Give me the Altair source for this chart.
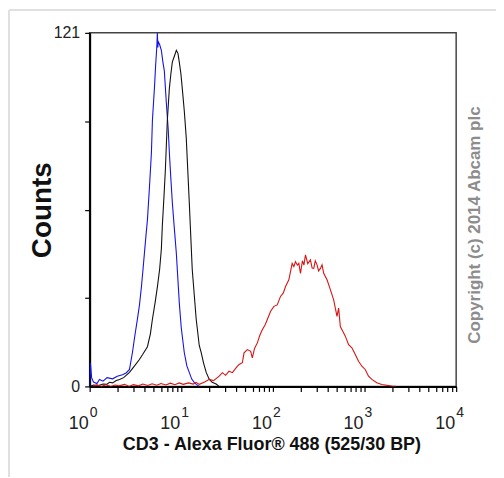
import altair as alt
import pandas as pd

# ---- data ----
blue_x = [1.0, 1.02, 1.05, 1.1, 1.2, 1.28, 1.4, 1.55, 1.78, 2.0, 2.28, 2.5, 2.72, 2.93, 3.1, 3.32, 3.5, 3.67,
          3.82, 3.96, 4.1, 4.27, 4.49, 4.72, 4.84, 5.09, 5.25, 5.35, 5.42, 5.48, 5.55, 5.6, 5.8, 6.06, 6.3, 6.53,
          6.87, 7.2, 7.41, 7.7, 7.98, 8.4, 8.83, 9.51, 10.0, 10.78, 11.5, 12.22, 13.0, 13.84, 14.6, 15.7]
blue_y = [0, 8, 3, 1.5, 1.0, 2.4, 1.8, 3.0, 2.6, 3.5, 4.0, 4.6, 5.8, 11.6, 17, 23, 28, 34,
          40, 45.6, 51, 57, 68, 80, 91, 102, 110, 114, 117, 121, 116, 118, 117, 115, 111, 108,
          97, 88, 80, 71, 63, 54, 45.6, 28.6, 20, 11.6, 7, 4.8, 2.5, 1.4, 0.7, 0]

black_x = [1.0, 1.1, 1.25, 1.4, 1.53, 1.65, 1.78, 1.95, 2.12, 2.35, 2.72, 3.0, 3.49, 3.8, 4.27, 4.6, 4.84, 5.2,
           5.48, 5.8, 6.06, 6.21, 6.5, 6.7, 7.04, 7.41, 7.7, 7.98, 8.4, 8.83, 9.2, 9.51, 9.9, 10.25, 10.8, 11.33,
           12.22, 13.17, 14.55, 15.7, 16.5, 17.5, 18.7, 20.15, 21.73, 24.0, 25.88]
black_y = [0, 0.5, 0.3, 0.8, 0.7, 1.4, 1.2, 2.0, 2.4, 3.0, 4.8, 6.5, 9.2, 11, 13.6, 18, 23, 29,
           34, 40, 47, 55, 66, 74, 91, 102, 107, 111, 113, 115, 114, 111, 107, 102, 94, 85,
           63, 40, 23, 14, 11.6, 8, 4.8, 2.5, 1.4, 0.8, 0]

red_x = [1.08, 1.2, 1.35, 1.5, 1.7, 1.9, 2.1, 2.4, 2.7, 3.0, 3.4, 3.8, 4.3, 4.8, 5.4, 6.0, 6.8, 7.6, 8.5, 9.5,
         10.5, 12, 13.5, 14.5, 15.7, 18, 20.2, 22.5, 25.9, 28.1, 30.5, 33.2, 36.1, 40, 42.7, 46.4, 48.4, 52.6,
         57.2, 59.6, 63, 67.6, 72, 76.6, 82, 86.7, 94.4, 102.6, 111.4, 121.1, 130, 137.4, 149.2, 155, 162.2,
         169.2, 176.2, 185, 191.8, 199.9, 210, 218, 226.6, 240, 256.7, 268, 279.2, 290, 303.3, 315, 329.8,
         343.6, 358.3, 389.6, 423.6, 460.4, 500.4, 521.6, 544.3, 567.3, 616.6, 670, 728, 792, 860, 935, 1017,
         1105, 1202, 1361, 1542, 1982, 2200]
red_y = [0, 0.5, 0, 0.6, 0, 0.5, 0.2, 0.7, 0, 0.6, 0.2, 0.8, 0.3, 0.9, 0.4, 1.0, 0.5, 1.1, 0.6, 1.2,
         0.7, 1.2, 0.8, 1.4, 0.7, 1.5, 2.4, 2.0, 3.5, 4.7, 3.8, 5.2, 4.7, 6.5, 7.5, 8.1, 11.5, 12.6,
         12.0, 9.8, 13, 14.9, 17.5, 19.4, 21, 22.8, 25.7, 27.4, 27.9, 30.8, 32, 34.2, 36.5, 39, 42.1,
         41.0, 42.7, 41.5, 42.1, 38.7, 43, 41.5, 45.0, 42, 43.3, 40.5, 40.4, 43, 41.6, 39.5, 40.4,
         41.6, 38.7, 36.5, 33.1, 29.6, 24.0, 26.8, 20.5, 19.4, 17.2, 14.3, 13.2, 10.9, 8.6, 6.9, 5.8,
         3.5, 2.4, 1.25, 0.68, 0.1, 0]

decades = [1, 10, 100, 1000, 10000]
exponents = ["0", "1", "2", "3", "4"]
minor_ticks = [m * d for d in [1, 10, 100, 1000] for m in range(1, 10)] + [10000]
y_ticks = [0, 30.25, 60.5, 90.75, 121]

x_title = "CD3 - Alexa Fluor® 488 (525/30 BP)"
y_title = "Counts"
copyright_text = "Copyright (c) 2014 Abcam plc"

series_names = ["blue", "black", "red"]
series_colors = ["#1414e6", "#111111", "#d81414"]

rows = []
for name, xs, ys in [("blue", blue_x, blue_y), ("black", black_x, black_y), ("red", red_x, red_y)]:
    for i, (xv, yv) in enumerate(zip(xs, ys)):
        rows.append({"series": name, "x": xv, "y": yv, "i": i})
df = pd.DataFrame(rows)

FONT = "'Liberation Sans', Arial, sans-serif"

xscale = alt.Scale(type="log", domain=[1, 10000], nice=False)
yscale = alt.Scale(domain=[0, 121], nice=False)

lines = alt.Chart(df).mark_line(strokeWidth=1.1, interpolate="linear", clip=True).encode(
    x=alt.X("x:Q", scale=xscale,
            axis=alt.Axis(values=minor_ticks, labels=False, title=None, grid=False, domainColor="#000",
                          domainWidth=2, tickColor="#000", tickSize=5, tickWidth=1.2)),
    y=alt.Y("y:Q", scale=yscale,
            axis=alt.Axis(values=y_ticks, grid=False, title=None, domainColor="#000", domainWidth=2,
                          tickColor="#000", tickSize=5, tickWidth=1.2, labelFont=FONT, labelFontSize=16,
                          labelColor="#222", labelPadding=5,
                          labelExpr="datum.value == 0 || datum.value == 121 ? datum.label : ''")),
    color=alt.Color("series:N", scale=alt.Scale(domain=series_names, range=series_colors), legend=None),
    order="i:Q",
)

dec_df = pd.DataFrame({"x": decades, "e": exponents, "t": ["10"] * len(decades)})
base_lbl = alt.Chart(dec_df).encode(x=alt.X("x:Q", scale=xscale))
lbl10 = base_lbl.mark_text(font=FONT, fontSize=18, align="right", baseline="alphabetic",
                           color="#222", dx=-1).encode(text="t:N", y=alt.value(398))
lblexp = base_lbl.mark_text(font=FONT, fontSize=14, align="left", baseline="alphabetic",
                            color="#222", dx=0).encode(text="e:N", y=alt.value(386))

title_df = pd.DataFrame({"t": [x_title]})
xt = alt.Chart(title_df).mark_text(font=FONT, fontSize=18, fontWeight="bold", align="center",
                                   baseline="alphabetic", color="#111").encode(
    text="t:N", x=alt.value(183), y=alt.value(419))
yt = alt.Chart(pd.DataFrame({"t": [y_title]})).mark_text(
    font=FONT, fontSize=28, fontWeight="bold", align="center", baseline="middle", angle=270,
    color="#111").encode(text="t:N", x=alt.value(-47), y=alt.value(178))
ct = alt.Chart(pd.DataFrame({"t": [copyright_text]})).mark_text(
    font=FONT, fontSize=17, fontWeight="bold", align="center", baseline="middle", angle=270,
    color="#8c8c8c").encode(text="t:N", x=alt.value(387), y=alt.value(193))

frame_left = alt.Chart(pd.DataFrame({"a": [0]})).mark_rule(color="#e0e0e0", strokeWidth=2).encode(
    x=alt.value(-81), y=alt.value(-23), y2=alt.value(446))
frame_top = alt.Chart(pd.DataFrame({"a": [0]})).mark_rule(color="#e0e0e0", strokeWidth=2).encode(
    x=alt.value(-81), x2=alt.value(420), y=alt.value(-23))

chart = alt.layer(frame_left, frame_top, lines, lbl10, lblexp, xt, yt, ct).properties(
    width=368, height=355,
    autosize=alt.AutoSizeParams(type="none"),
    padding={"left": 82, "top": 24, "right": 40, "bottom": 90},
).configure_view(stroke="#444", strokeWidth=1.5)

chart.save("out.html", embed_options={"renderer": "svg", "actions": False})
